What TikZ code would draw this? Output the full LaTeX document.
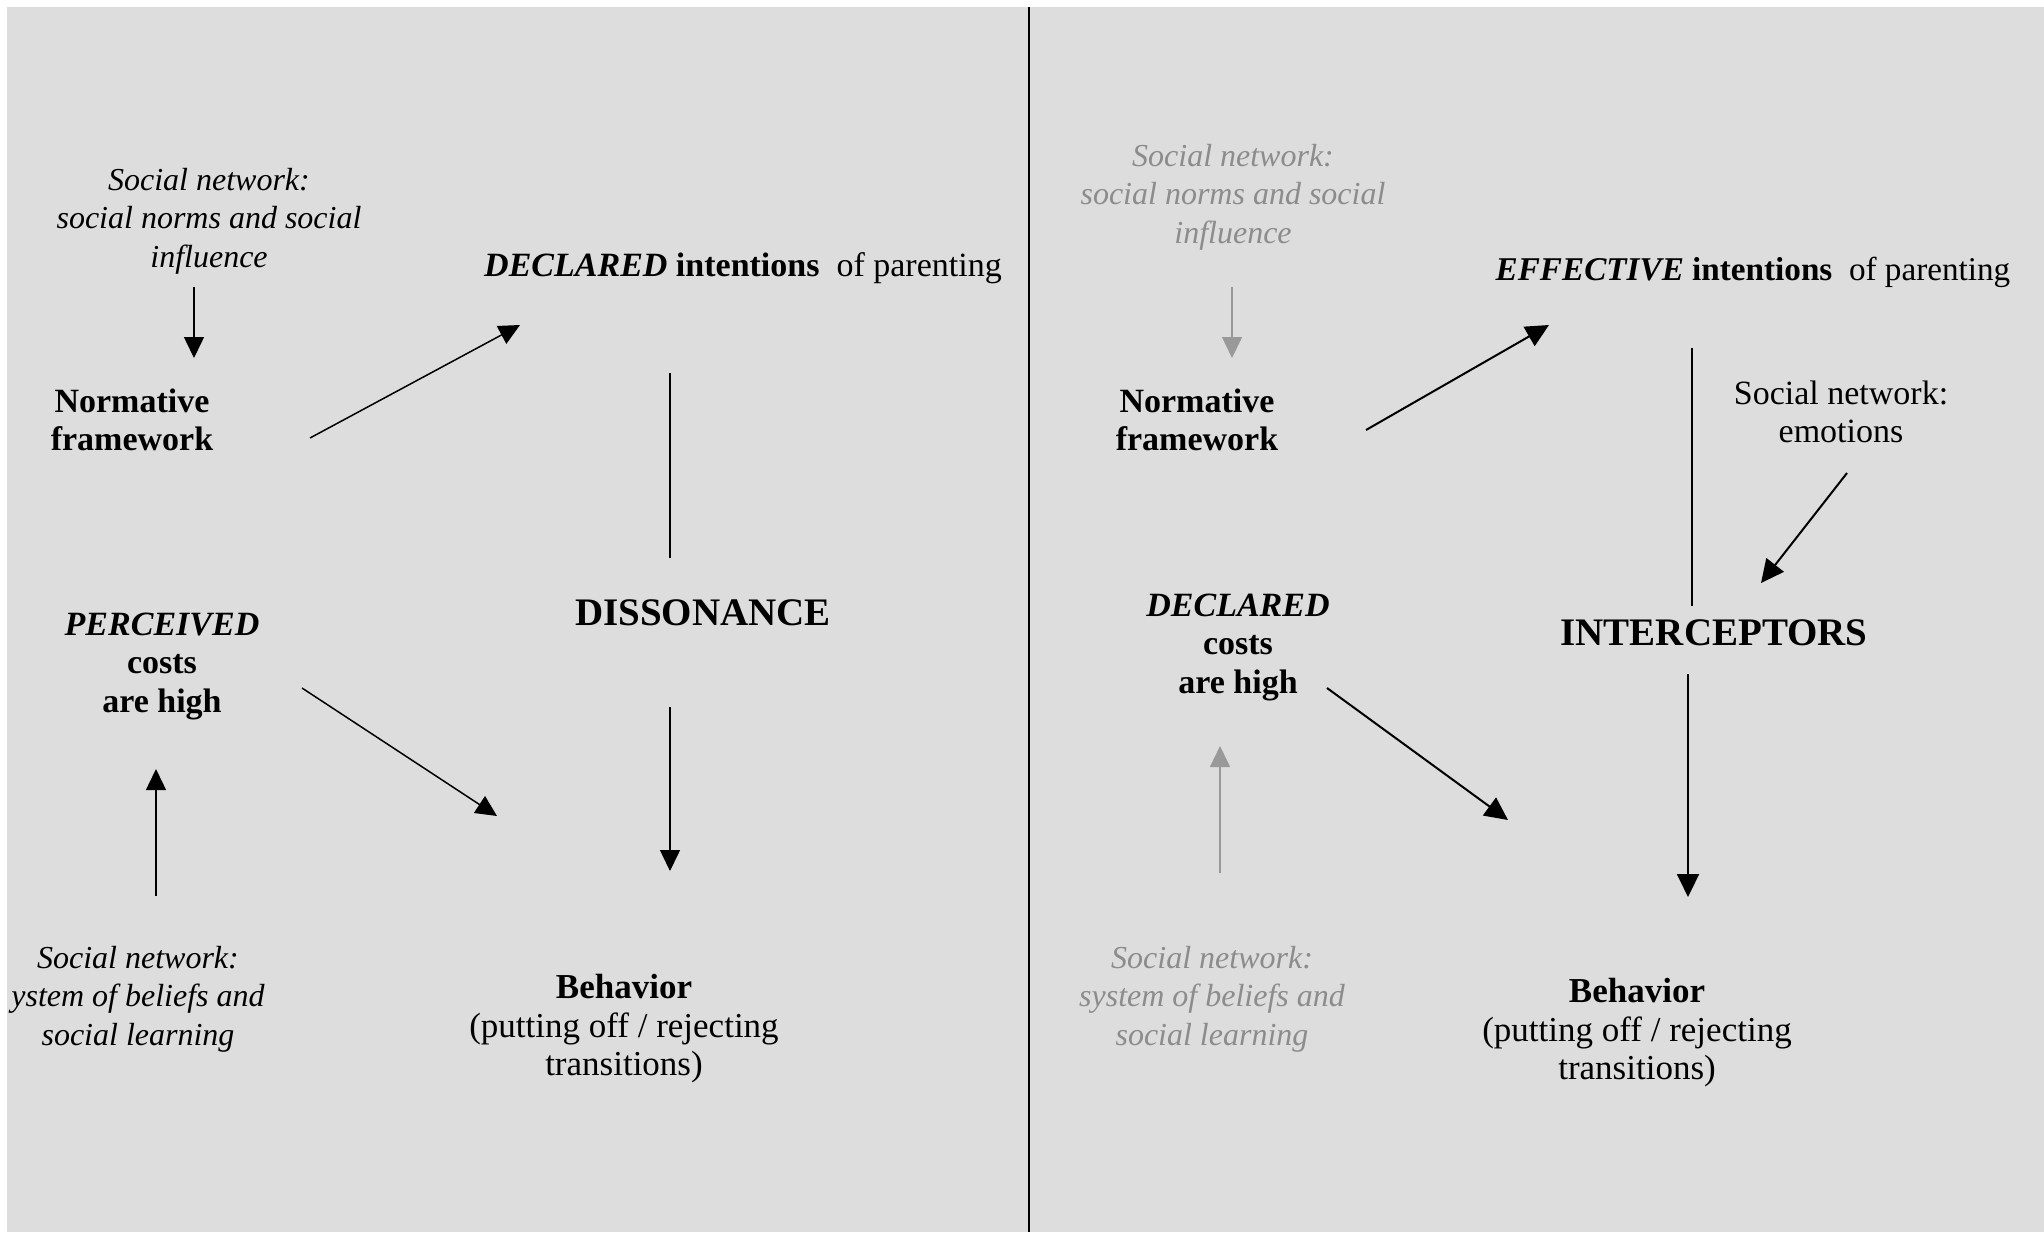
\documentclass[tikz,border=0pt]{standalone}
\usepackage{fontspec}
\setmainfont{Liberation Serif}
\usetikzlibrary{arrows.meta}
\definecolor{bg}{HTML}{DDDDDD}
\definecolor{fade}{HTML}{8C8C8C}
\definecolor{fadearr}{HTML}{999999}
\tikzset{
  txt/.style={align=center, inner sep=0pt, font=\fontsize{17}{19.25}\selectfont},
  itx/.style={align=center, inner sep=0pt, font=\fontsize{16}{19.25}\selectfont\itshape},
  bld/.style={align=center, inner sep=0pt, font=\fontsize{17}{19.25}\selectfont\bfseries},
  big/.style={align=center, inner sep=0pt, font=\fontsize{19.5}{22}\selectfont\bfseries},
  beh/.style={align=center, inner sep=0pt, font=\fontsize{17.5}{19.25}\selectfont},
  arrL/.style={-{Triangle[length=10.5pt,width=10pt]}, line width=0.75pt},
  arrR/.style={-{Triangle[length=11.5pt,width=11pt]}, line width=1pt},
  faded/.style={text=fade},
  fadedarr/.style={draw=fadearr, fill=fadearr},
}
\begin{document}
\begin{tikzpicture}[x=0.5pt,y=-0.5pt]
\useasboundingbox (0,0) rectangle (2044,1232);
\fill[bg] (7,7) rectangle (2044,1232);
\draw[line width=1pt] (1029,7) -- (1029,1232);

% ---------- left panel ----------
\node[itx] (snL) at (209,221) {Social network:\\social norms and social\\influence};
\node[bld] (normL) at (132,420) {Normative\\framework};
\node[txt] (declL) at (743,268) {\textbf{\textit{DECLARED} intentions}\enspace of parenting};
\node[big] (disL) at (703,613) {DISSONANCE};
\node[bld] (costL) at (162,666) {\textit{PERCEIVED}\\costs\\are high};
\node[itx] (sbL) at (138,999) {Social network:\\ystem of beliefs and\\social learning};
\node[beh] (behL) at (624,1029) {\textbf{Behavior}\\(putting off / rejecting\\transitions)};

\coordinate (snL-o) at (194,287);   \coordinate (normL-i) at (194,358);
\coordinate (normL-o) at (310,438); \coordinate (declL-i) at (520,325);
\coordinate (declL-o) at (670,373); \coordinate (disL-i) at (670,558);
\coordinate (costL-o) at (302,688); \coordinate (behL-i1) at (497,816);
\coordinate (disL-o) at (670,707);  \coordinate (behL-i2) at (670,871);
\coordinate (sbL-o) at (156,896);   \coordinate (costL-i) at (156,769);

\draw[arrL] (snL-o) -- (normL-i);
\draw[arrL] (normL-o) -- (declL-i);
\draw[line width=0.75pt] (declL-o) -- (disL-i);
\draw[arrL] (costL-o) -- (behL-i1);
\draw[arrL] (disL-o) -- (behL-i2);
\draw[arrL] (sbL-o) -- (costL-i);

% ---------- right panel ----------
\node[itx,faded] (snR) at (1233,197) {Social network:\\social norms and social\\influence};
\node[bld] (normR) at (1197,420) {Normative\\framework};
\node[txt,font=\fontsize{16.6}{19.25}\selectfont] (effR) at (1753,272) {\textbf{\textit{EFFECTIVE} intentions}\enspace of parenting};
\node[txt] (emoR) at (1841,412) {Social network:\\emotions};
\node[big] (intR) at (1714,633) {INTERCEPTORS};
\node[bld] (costR) at (1238,647) {\textit{DECLARED}\\costs\\are high};
\node[itx,faded] (sbR) at (1212,999) {Social network:\\system of beliefs and\\social learning};
\node[beh] (behR) at (1637,1033) {\textbf{Behavior}\\(putting off / rejecting\\transitions)};

\coordinate (snR-o) at (1232,287);   \coordinate (normR-i) at (1232,358);
\coordinate (normR-o) at (1366,430); \coordinate (effR-i) at (1549,325);
\coordinate (effR-o) at (1692,348);  \coordinate (intR-i) at (1692,606);
\coordinate (emoR-o) at (1847,473);  \coordinate (intR-i2) at (1761,583);
\coordinate (costR-o) at (1327,688); \coordinate (behR-i1) at (1508,820);
\coordinate (intR-o) at (1688,674);  \coordinate (behR-i2) at (1688,897);
\coordinate (sbR-o) at (1220,873);   \coordinate (costR-i) at (1220,746);

\draw[arrL,fadedarr] (snR-o) -- (normR-i);
\draw[arrR] (normR-o) -- (effR-i);
\draw[line width=1pt] (effR-o) -- (intR-i);
\draw[arrR] (emoR-o) -- (intR-i2);
\draw[arrR] (costR-o) -- (behR-i1);
\draw[arrR] (intR-o) -- (behR-i2);
\draw[arrL,fadedarr] (sbR-o) -- (costR-i);
\end{tikzpicture}
\end{document}
